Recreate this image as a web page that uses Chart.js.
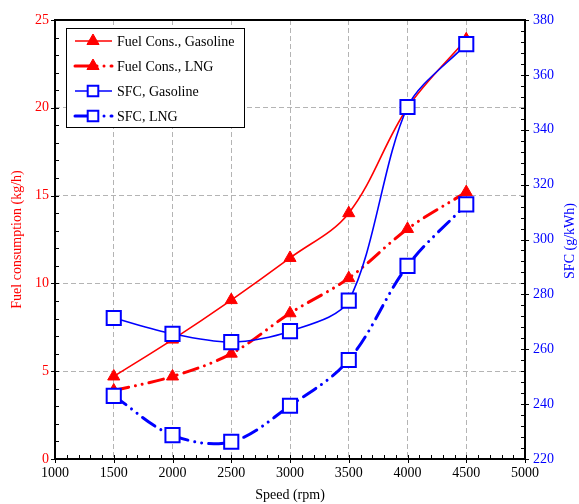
<!DOCTYPE html>
<html>
<head>
<meta charset="utf-8">
<script src="https://cdn.jsdelivr.net/npm/chart.js@4/dist/chart.umd.min.js"></script>
<style>
  html, body { margin: 0; padding: 0; background: #fff; }
  #wrap { width: 579px; height: 504px; position: relative; }
</style>
</head>
<body>
<div id="wrap"><canvas id="c" width="579" height="504"></canvas></div>
<script>
// ---- data ----
const speeds = [1500, 2000, 2500, 3000, 3500, 4000, 4500];
const fuelGasoline = [4.7, 6.8, 9.05, 11.45, 14.0, 20.0, 23.9];
const fuelLNG = [3.9, 4.7, 6.0, 8.3, 10.3, 13.1, 15.2];
const sfcGasoline = [271.4, 265.6, 262.6, 266.6, 277.7, 348.3, 371.2];
const sfcLNG = [243.0, 228.7, 226.3, 239.4, 256.1, 290.4, 312.8];
const seriesNames = ['Fuel Cons., Gasoline', 'Fuel Cons., LNG', 'SFC, Gasoline', 'SFC, LNG'];
const xTickLabels = ['1000','1500','2000','2500','3000','3500','4000','4500','5000'];
const leftTickLabels = ['0','5','10','15','20','25'];
const rightTickLabels = ['220','240','260','280','300','320','340','360','380'];
const xTitle = 'Speed (rpm)';
const leftTitle = 'Fuel consumption (kg/h)';
const rightTitle = 'SFC (g/kWh)';

const FONT = '"Liberation Serif", "Times New Roman", serif';
const RED = '#ff0000';
const BLUE = '#0000ff';
const LNG_DASH = [15, 7, 0.01, 7, 0.01, 7];

const pts = arr => speeds.map((s, i) => ({ x: s, y: arr[i] }));

const datasets = [
  { label: seriesNames[0], data: pts(fuelGasoline), yAxisID: 'y', order: 2,
    borderColor: RED, backgroundColor: RED, borderWidth: 1.6,
    pointStyle: 'triangle', pointRadius: 7, pointBackgroundColor: RED, pointBorderColor: RED, pointBorderWidth: 1 },
  { label: seriesNames[1], data: pts(fuelLNG), yAxisID: 'y', order: 3,
    borderColor: RED, backgroundColor: RED, borderWidth: 3, borderDash: LNG_DASH, borderCapStyle: 'round',
    pointStyle: 'triangle', pointRadius: 7, pointBackgroundColor: RED, pointBorderColor: RED, pointBorderWidth: 1 },
  { label: seriesNames[2], data: pts(sfcGasoline), yAxisID: 'y1', order: 0,
    borderColor: BLUE, backgroundColor: '#fff', borderWidth: 1.6, tension: 0.3,
    pointStyle: 'rect', pointRadius: 10, pointBackgroundColor: '#fff', pointBorderColor: BLUE, pointBorderWidth: 2 },
  { label: seriesNames[3], data: pts(sfcLNG), yAxisID: 'y1', order: 1,
    borderColor: BLUE, backgroundColor: '#fff', borderWidth: 3, borderDash: LNG_DASH, borderCapStyle: 'round',
    pointStyle: 'rect', pointRadius: 10, pointBackgroundColor: '#fff', pointBorderColor: BLUE, pointBorderWidth: 2 }
];

function labelFrom(list, min, step) {
  return v => { const i = Math.round((v - min) / step); return list[i] !== undefined ? list[i] : ''; };
}

// Minor ticks, frame, legend, right title
const decorations = {
  id: 'decorations',
  afterDatasetsDraw(chart) {
    const ctx = chart.ctx;
    const a = chart.chartArea;
    const sx = chart.scales.x, sy = chart.scales.y, sr = chart.scales.y1;
    ctx.save();
    ctx.strokeStyle = '#000';
    ctx.lineWidth = 1;
    for (let v = 1000; v <= 5000; v += 100) {
      const px = Math.round(sx.getPixelForValue(v)) + 0.5;
      const major = v % 500 === 0;
      ctx.beginPath();
      ctx.moveTo(px, a.bottom + (major ? 4 : 0));
      ctx.lineTo(px, a.bottom - 4);
      ctx.stroke();
    }
    for (let v = 0; v <= 25; v += 1) {
      const py = Math.round(sy.getPixelForValue(v)) + 0.5;
      const major = v % 5 === 0;
      ctx.beginPath();
      ctx.moveTo(a.left - (major ? 4 : 0), py);
      ctx.lineTo(a.left + 4, py);
      ctx.stroke();
    }
    for (let v = 220; v <= 380; v += 4) {
      const py = Math.round(sr.getPixelForValue(v)) + 0.5;
      const major = (v - 220) % 20 === 0;
      ctx.beginPath();
      ctx.moveTo(a.right + (major ? 4 : 0), py);
      ctx.lineTo(a.right - 4, py);
      ctx.stroke();
    }
    ctx.lineWidth = 2;
    ctx.strokeRect(a.left, a.top, a.right - a.left, a.bottom - a.top);

    // right title (reads bottom to top)
    ctx.fillStyle = BLUE;
    ctx.font = '14px ' + FONT;
    ctx.textAlign = 'center';
    ctx.textBaseline = 'middle';
    ctx.save();
    ctx.translate(570, 241);
    ctx.rotate(-Math.PI / 2);
    ctx.fillText(rightTitle, 0, 0);
    ctx.restore();

    // legend
    const lx = 66, ly = 28, lw = 178, lh = 99;
    ctx.fillStyle = '#fff';
    ctx.fillRect(lx, ly, lw, lh);
    ctx.lineWidth = 1;
    ctx.strokeStyle = '#000';
    ctx.strokeRect(lx + 0.5, ly + 0.5, lw, lh);
    const rows = [41, 66, 91, 116];
    chart.data.datasets.forEach((ds, i) => {
      const yy = rows[i];
      ctx.save();
      ctx.strokeStyle = ds.borderColor;
      ctx.lineWidth = ds.borderWidth;
      ctx.lineCap = ds.borderCapStyle || 'butt';
      ctx.setLineDash(ds.borderDash || []);
      ctx.beginPath();
      ctx.moveTo(75, yy);
      ctx.lineTo(112, yy);
      ctx.stroke();
      ctx.restore();
      ctx.save();
      ctx.fillStyle = ds.pointBackgroundColor;
      ctx.strokeStyle = ds.pointBorderColor;
      ctx.lineWidth = ds.pointBorderWidth;
      Chart.helpers.drawPoint(ctx, { pointStyle: ds.pointStyle, radius: ds.pointStyle === 'rect' ? 7.5 : 7, rotation: 0, borderWidth: ds.pointBorderWidth }, 93, yy);
      ctx.restore();
      ctx.fillStyle = '#000';
      ctx.font = '14px ' + FONT;
      ctx.textAlign = 'left';
      ctx.textBaseline = 'middle';
      ctx.fillText(ds.label, 117, yy + 1);
    });
    ctx.restore();
  }
};

new Chart(document.getElementById('c'), {
  type: 'line',
  data: { datasets },
  plugins: [decorations],
  options: {
    responsive: false,
    animation: false,
    events: [],
    layout: { padding: { top: 20, left: 0, right: 0, bottom: 0 } },
    elements: { line: { tension: 0.35 } },
    plugins: { legend: { display: false }, tooltip: { enabled: false } },
    scales: {
      x: {
        type: 'linear', min: 1000, max: 5000,
        afterFit: s => { s.height = 45; },
        ticks: { stepSize: 500, color: '#000', font: { family: FONT, size: 14 }, padding: 6,
                 maxRotation: 0, callback: labelFrom(xTickLabels, 1000, 500) },
        grid: { color: '#b4b4b4', lineWidth: 1, drawTicks: false },
        border: { display: false, dash: [5, 3] },
        title: { display: true, text: xTitle, color: '#000', font: { family: FONT, size: 14 }, padding: { top: 0, bottom: 0 } }
      },
      y: {
        position: 'left', min: 0, max: 25,
        afterFit: s => { s.width = 55; },
        ticks: { stepSize: 5, color: RED, font: { family: FONT, size: 14 }, padding: 6,
                 callback: labelFrom(leftTickLabels, 0, 5) },
        grid: { color: '#b4b4b4', lineWidth: 1, drawTicks: false },
        border: { display: false, dash: [5, 3] },
        title: { display: true, text: leftTitle, color: RED, font: { family: FONT, size: 14 }, padding: { top: 9, bottom: 0 } }
      },
      y1: {
        position: 'right', min: 220, max: 380,
        afterFit: s => { s.width = 54; },
        ticks: { stepSize: 20, color: BLUE, font: { family: FONT, size: 14 }, padding: 8,
                 callback: labelFrom(rightTickLabels, 220, 20) },
        grid: { drawOnChartArea: false, drawTicks: false },
        border: { display: false },
        title: { display: false, text: rightTitle }
      }
    }
  }
});
</script>
</body>
</html>
